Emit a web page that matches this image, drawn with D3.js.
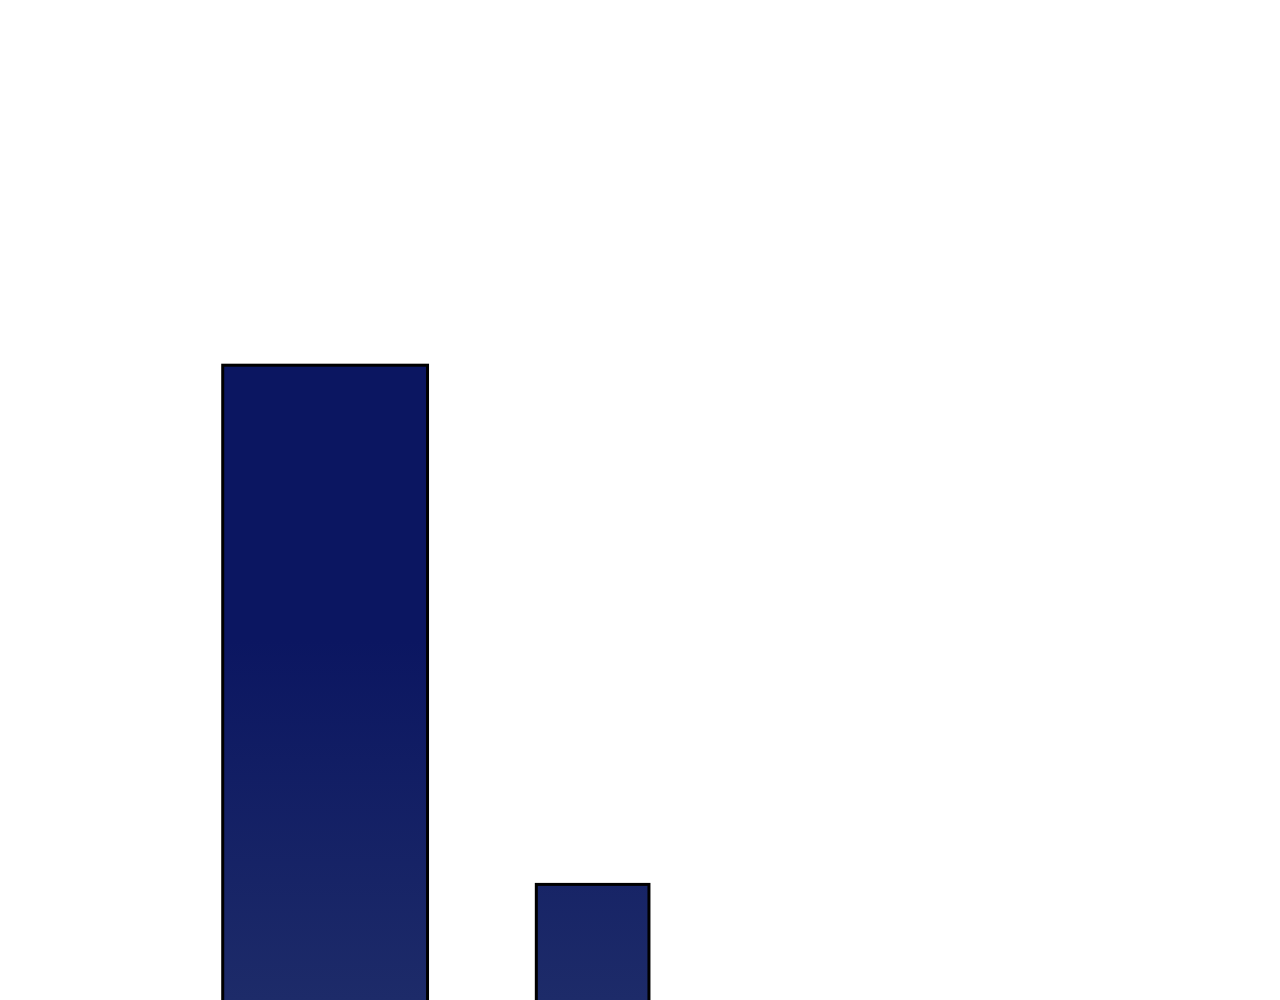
<!DOCTYPE html>
<html>
<head>
<meta charset="utf-8">
<script src="https://cdn.jsdelivr.net/npm/d3@7"></script>
<style>
  body { margin: 0; background: #fff; }
</style>
</head>
<body>
<div class="plot"></div>
<script>
  // bins (start, end) and bar heights
  const categories = ['A', 'B'];
  const binStart = [17.4, 41.9];
  const binEnd = [33.4, 50.7];
  const values = [66.8, 19.6];

  const width = 1280;
  const height = 1000;

  const svg = d3.select('.plot')
    .append('svg')
    .attr('width', width)
    .attr('height', height)

  const x = d3.scaleLinear().domain([0, 100]).range([0, width]);
  // baseline sits below the visible area
  const y = d3.scaleLinear().domain([0, 100]).range([1100, 0]);

  const grad = svg.append('defs').append('linearGradient')
    .attr('id', 'barGrad')
    .attr('gradientUnits', 'userSpaceOnUse')
    .attr('x1', 0).attr('x2', 0)
    .attr('y1', 0).attr('y2', height);
  grad.append('stop').attr('offset', '0.64').attr('stop-color', '#0b1661');
  grad.append('stop').attr('offset', '1').attr('stop-color', '#1d2b69');

  const data = categories.map((c, i) => ({ cat: c, x0: binStart[i], x1: binEnd[i], v: values[i] }));

  svg.selectAll('rect')
    .data(data)
    .enter()
    .append('rect')
    .attr('x', d => x(d.x0))
    .attr('width', d => x(d.x1) - x(d.x0))
    .attr('y', d => y(d.v))
    .attr('height', d => y(0) - y(d.v))
    .attr('fill', 'url(#barGrad)')
    .attr('stroke', '#000')
    .attr('stroke-width', 3);
</script>
</body>
</html>
